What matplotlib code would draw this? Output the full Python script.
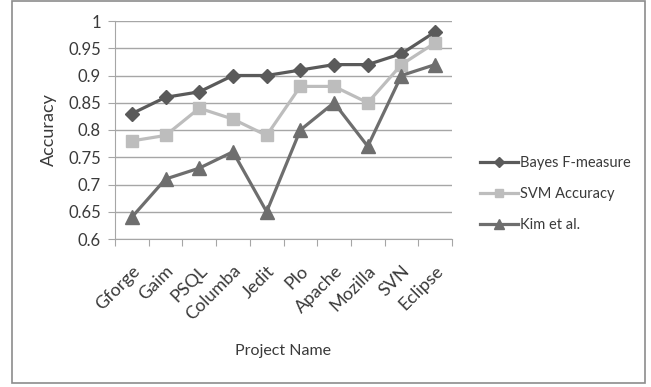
import matplotlib
matplotlib.use("Agg")
import matplotlib.pyplot as plt
from matplotlib.patches import Rectangle

projects = ["Gforge", "Gaim", "PSQL", "Columba", "Jedit", "Plo",
            "Apache", "Mozilla", "SVN", "Eclipse"]
bayes_f = [0.83, 0.86, 0.87, 0.90, 0.90, 0.91, 0.92, 0.92, 0.94, 0.98]
svm_acc = [0.78, 0.79, 0.84, 0.82, 0.79, 0.88, 0.88, 0.85, 0.92, 0.96]
kim_etal = [0.64, 0.71, 0.73, 0.76, 0.65, 0.80, 0.85, 0.77, 0.90, 0.92]
y_ticks = [0.6, 0.65, 0.7, 0.75, 0.8, 0.85, 0.9, 0.95, 1.0]
y_tick_labels = ["0.6", "0.65", "0.7", "0.75", "0.8", "0.85", "0.9", "0.95", "1"]

plt.rcParams["font.family"] = ["Lato", "DejaVu Sans"]
txt = "#3a3a3a"
grid_c = "#a6a6a6"

fig = plt.figure(figsize=(6.51, 3.87), dpi=100)
fig.patches.append(Rectangle((12 / 651, 4 / 387), 633 / 651, 382 / 387,
                             transform=fig.transFigure, fill=False,
                             edgecolor="#8c8c8c", linewidth=1.2))

ax = fig.add_axes([115 / 651, 1 - 239 / 387, 337 / 651, 218 / 387])
x = list(range(len(projects)))

ax.plot(x, bayes_f, color="#5a5a5a", lw=2.3, marker="D", ms=7,
        label="Bayes F-measure", zorder=3)
ax.plot(x, svm_acc, color="#bdbdbd", lw=2.3, marker="s", ms=9,
        label="SVM Accuracy", zorder=3)
ax.plot(x, kim_etal, color="#6e6e6e", lw=2.3, marker="^", ms=10,
        label="Kim et al.", zorder=3)

ax.set_xlim(-0.5, len(projects) - 0.5)
ax.set_ylim(0.6, 1.0)
ax.set_yticks(y_ticks)
ax.set_yticklabels(y_tick_labels)
ax.yaxis.grid(True, color=grid_c, lw=1)
ax.set_axisbelow(True)

ax.set_xticks([i + 0.5 for i in range(-1, len(projects))], minor=False)
ax.set_xticklabels([])
ax.set_xticks(x, minor=True)
ax.set_xticklabels(projects, minor=True, rotation=45, ha="right",
                   rotation_mode="anchor", fontsize=13, color=txt)
ax.tick_params(axis="x", which="major", length=5, color=grid_c, direction="out")
ax.tick_params(axis="x", which="minor", length=0, pad=17)
ax.tick_params(axis="y", length=5, color=grid_c, labelsize=12,
               labelcolor=txt, pad=5)

for s in ["top", "right"]:
    ax.spines[s].set_visible(False)
ax.spines["left"].set_color(grid_c)
ax.spines["bottom"].set_color(grid_c)

ax.set_ylabel("Accuracy", fontsize=13, color=txt, labelpad=8)
fig.text(283 / 651, 1 - 351 / 387, "Project Name", fontsize=11.5,
         color=txt, ha="center", va="center")

fig.legend(loc="upper left", bbox_to_anchor=(467 / 651, 1 - 143 / 387),
           frameon=False, fontsize=10.5, labelcolor=txt, handlelength=2.6,
           handletextpad=0.1, labelspacing=1.15, markerscale=0.7)

fig.savefig("out.png", dpi=100, facecolor="white")
